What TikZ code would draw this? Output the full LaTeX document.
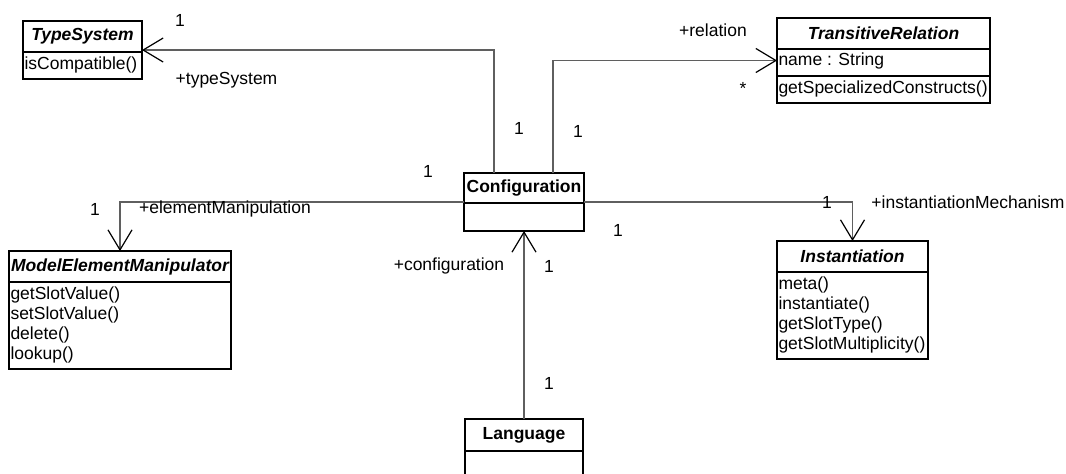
\documentclass[tikz,border=0pt]{standalone}
\usepackage{fontspec}
\setmainfont{Liberation Sans}
\usetikzlibrary{arrows.meta}
\definecolor{wire}{RGB}{95,95,95}
\newcommand{\umlfont}{\fontsize{17.5}{20}\selectfont}
\tikzset{
  x=1pt, y=-1pt,
  every node/.style={font=\umlfont, inner sep=0pt, outer sep=0pt},
  classbox/.style={draw=black, line width=1.3pt, rectangle, anchor=north west},
  rule/.style={draw=black, line width=1.3pt},
  member/.style={anchor=west},
  abstitle/.style={font=\umlfont\bfseries\itshape},
  plaintitle/.style={font=\umlfont\bfseries},
  lbl/.style={},
  assoc/.style={draw=wire, line width=1.2pt,
    -{Straight Barb[length=20pt, width=24pt, line width=1.2pt, color=black]}},
}
\begin{document}
\begin{tikzpicture}
\useasboundingbox (0,0) rectangle (1066,474);
\clip (0,0) rectangle (1066,474);

% TypeSystem
\node[classbox, minimum width=119pt, minimum height=58pt] (ts) at (23,21) {};
\draw[rule] (23,52) -- (142,52);
\node[abstitle] (tsname) at (82.5,36.5) {TypeSystem};
\node[member] (tsop) at (24.5,65) {isCompatible()};

% TransitiveRelation
\node[classbox, minimum width=213pt, minimum height=85pt] (tr) at (777,18) {};
\draw[rule] (777,49) -- (990,49);
\draw[rule] (777,76) -- (990,76);
\node[abstitle] (trname) at (883.5,33.5) {TransitiveRelation};
\node[member] (trattr) at (778.5,61) {name : String};
\node[member] (trop) at (778.5,89) {getSpecializedConstructs()};

% Configuration
\node[classbox, minimum width=120pt, minimum height=58pt] (conf) at (464,173) {};
\draw[rule] (464,203) -- (584,203);
\node[plaintitle] (confname) at (524,188) {Configuration};

% ModelElementManipulator
\node[classbox, minimum width=222pt, minimum height=118pt] (mem) at (9,251) {};
\draw[rule] (9,282) -- (231,282);
\node[abstitle] (memname) at (120,266.5) {ModelElementManipulator};
\node[member] (memop1) at (10.5,295) {getSlotValue()};
\node[member] (memop2) at (10.5,315) {setSlotValue()};
\node[member] (memop3) at (10.5,335) {delete()};
\node[member] (memop4) at (10.5,355) {lookup()};

% Instantiation
\node[classbox, minimum width=151pt, minimum height=118pt] (inst) at (777,241) {};
\draw[rule] (777,272) -- (928,272);
\node[abstitle] (instname) at (852.5,256.5) {Instantiation};
\node[member] (instop1) at (778.5,285) {meta()};
\node[member] (instop2) at (778.5,305) {instantiate()};
\node[member] (instop3) at (778.5,325) {getSlotType()};
\node[member] (instop4) at (778.5,345) {getSlotMultiplicity()};

% Language (runs past the lower edge)
\node[classbox, minimum width=118pt, minimum height=62pt] (lang) at (465,419) {};
\draw[rule] (465,451) -- (583,451);
\node[plaintitle] (langname) at (524,435) {Language};

% Associations
\coordinate (confa) at (494,173);
\coordinate (confb) at (553,173);
\draw[assoc] (confa) |- (ts.east);
\draw[assoc] (confb) |- (tr.west);
\draw[assoc] (conf.west) -| (mem.north);
\draw[assoc] (conf.east) -| (inst.north);
\draw[assoc] (lang.north) -- (conf.south);

% Role names and multiplicities
\node[lbl] (m1) at (180,20) {1};
\node[lbl] (r1) at (226.5,80) {+typeSystem};
\node[lbl] (r2) at (713,30) {+relation};
\node[lbl] (m2) at (743,88) {*};
\node[lbl] (m3) at (519,128) {1};
\node[lbl] (m4) at (578,131) {1};
\node[lbl] (m5) at (428,171) {1};
\node[lbl] (m6) at (618,230) {1};
\node[lbl] (m7) at (95,209) {1};
\node[lbl] (r3) at (225,209) {+elementManipulation};
\node[lbl] (m8) at (827,202) {1};
\node[lbl] (r4) at (968,202) {+instantiationMechanism};
\node[lbl] (r5) at (449,266) {+configuration};
\node[lbl] (m9) at (549,266) {1};
\node[lbl] (m10) at (549,383) {1};
\end{tikzpicture}
\end{document}
